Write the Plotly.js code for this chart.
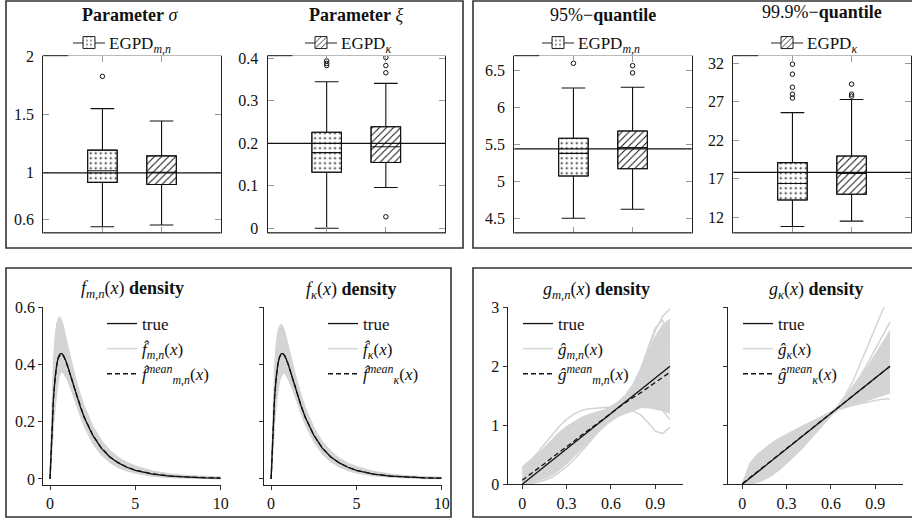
<!DOCTYPE html>
<html><head><meta charset="utf-8">
<script src="https://cdn.plot.ly/plotly-3.0.1.min.js"></script>
<style>body{margin:0;background:#fff}#chart{width:912px;height:519px}</style>
</head><body><div id="chart"></div>
<script>
// ---------------- DATA ----------------
const boxPos = [1, 2];
const boxNames = ['EGPD<sub><i>m,n</i></sub>', 'EGPD<sub><i>κ</i></sub>'];

// Parameter sigma
const sigQ1 = [0.918, 0.900], sigMed = [1.017, 1.005], sigQ3 = [1.194, 1.145];
const sigLo = [0.538, 0.553], sigHi = [1.550, 1.444];
const sigOut = [[1.826], []];
const sigTrue = 1.0;
const sigTicks = [0.6, 1, 1.5, 2], sigTickText = ['0.6', '1', '1.5', '2'];

// Parameter xi
const xiQ1 = [0.132, 0.155], xiMed = [0.178, 0.192], xiQ3 = [0.226, 0.239];
const xiLo = [0.0, 0.096], xiHi = [0.345, 0.341];
const xiOut = [[0.394, 0.388, 0.383], [0.402, 0.383, 0.366, 0.027]];
const xiTrue = 0.2;
const xiTicks = [0, 0.1, 0.2, 0.3, 0.4], xiTickText = ['0', '0.1', '0.2', '0.3', '0.4'];

// 95%-quantile
const q95Q1 = [5.073, 5.172], q95Med = [5.380, 5.457], q95Q3 = [5.584, 5.683];
const q95Lo = [4.500, 4.622], q95Hi = [6.266, 6.275];
const q95Out = [[6.60], [6.568, 6.47]];
const q95True = 5.44;
const q95Ticks = [4.5, 5, 5.5, 6, 6.5], q95TickText = ['4.5', '5', '5.5', '6', '6.5'];

// 99.9%-quantile
const q999Q1 = [14.25, 15.0], q999Med = [16.4, 17.7], q999Q3 = [19.1, 19.96];
const q999Lo = [10.8, 11.5], q999Hi = [25.6, 27.3];
const q999Out = [[31.9, 30.6, 28.9, 28.0, 27.5], [29.3, 28.0, 27.75]];
const q999True = 17.84;
const q999Ticks = [12, 17, 22, 27, 32], q999TickText = ['12', '17', '22', '27', '32'];

// densities f
const fX = [0,0.1,0.2,0.3,0.4,0.5,0.6,0.7,0.8,0.9,1,1.25,1.5,1.75,2,2.5,3,3.5,4,4.5,5,6,7,8,9,10];
const fTrue = [0,0.168,0.282,0.356,0.403,0.428,0.438,0.438,0.430,0.417,0.401,0.353,0.303,0.257,0.216,0.153,0.108,0.077,0.056,0.041,0.030,0.017,0.010,0.006,0.004,0.003];
const fMnMean = [0,0.165,0.278,0.352,0.399,0.424,0.434,0.435,0.428,0.416,0.400,0.353,0.304,0.258,0.217,0.154,0.109,0.078,0.057,0.042,0.031,0.018,0.011,0.007,0.004,0.003];
const fMnUpper = [0,0.26,0.41,0.50,0.545,0.563,0.565,0.55,0.53,0.50,0.475,0.41,0.35,0.30,0.255,0.185,0.135,0.10,0.075,0.058,0.045,0.028,0.018,0.012,0.009,0.007];
const fMnLower = [0,0.10,0.18,0.25,0.31,0.35,0.37,0.375,0.37,0.36,0.35,0.31,0.265,0.225,0.185,0.125,0.085,0.058,0.04,0.028,0.02,0.01,0.005,0.003,0.001,0.0005];
const fMnCurve = [0,0.20,0.33,0.41,0.455,0.475,0.48,0.475,0.465,0.45,0.43,0.375,0.32,0.27,0.225,0.16,0.112,0.08,0.058,0.043,0.032,0.018,0.011,0.007,0.005,0.003];
const fKMean = [0,0.170,0.283,0.356,0.402,0.427,0.437,0.437,0.430,0.417,0.401,0.353,0.303,0.257,0.216,0.153,0.108,0.077,0.056,0.041,0.030,0.017,0.010,0.006,0.004,0.003];
const fKUpper = [0,0.24,0.39,0.47,0.515,0.535,0.54,0.53,0.515,0.49,0.465,0.405,0.345,0.295,0.25,0.18,0.13,0.097,0.072,0.055,0.043,0.027,0.017,0.011,0.008,0.006];
const fKLower = [0,0.11,0.19,0.26,0.31,0.345,0.36,0.37,0.37,0.36,0.35,0.315,0.27,0.23,0.19,0.13,0.088,0.06,0.042,0.03,0.021,0.011,0.006,0.003,0.0015,0.0008];
const fKCurve = [0,0.18,0.30,0.38,0.43,0.455,0.46,0.458,0.45,0.437,0.42,0.37,0.318,0.268,0.224,0.158,0.11,0.079,0.057,0.042,0.031,0.018,0.011,0.007,0.005,0.003];

// densities g
const gX = [0,0.05,0.1,0.15,0.2,0.25,0.3,0.35,0.4,0.45,0.5,0.55,0.6,0.65,0.7,0.75,0.8,0.85,0.9,0.95,1];
const gTrue = [0,0.1,0.2,0.3,0.4,0.5,0.6,0.7,0.8,0.9,1.0,1.1,1.2,1.3,1.4,1.5,1.6,1.7,1.8,1.9,2.0];
const gMnMean = [0.07,0.16,0.26,0.35,0.45,0.54,0.64,0.73,0.83,0.92,1.02,1.11,1.2,1.3,1.39,1.47,1.55,1.64,1.72,1.81,1.9];
const gMnLower = [0,0.02,0.06,0.1,0.16,0.24,0.35,0.47,0.6,0.72,0.85,0.97,1.07,1.15,1.2,1.25,1.3,1.3,1.28,1.25,1.2];
const gMnUpper = [0.3,0.4,0.5,0.62,0.75,0.88,0.98,1.06,1.13,1.18,1.22,1.26,1.32,1.4,1.52,1.7,1.95,2.25,2.5,2.7,2.8];
const gMnC1 = [0.2,0.27,0.34,0.42,0.5,0.6,0.7,0.8,0.9,1.0,1.08,1.16,1.24,1.34,1.48,1.68,1.95,2.28,2.6,2.85,2.97];
const gMnC2 = [0,0.01,0.03,0.07,0.12,0.2,0.3,0.42,0.55,0.7,0.85,0.98,1.1,1.2,1.25,1.24,1.18,1.05,0.9,0.86,0.97];
const gMnC3 = [0.25,0.38,0.52,0.68,0.84,0.98,1.1,1.19,1.25,1.28,1.29,1.3,1.31,1.34,1.38,1.42,1.44,1.42,1.36,1.25,1.1];
const gMnC4 = [0.1,0.2,0.3,0.4,0.5,0.6,0.7,0.8,0.9,1.0,1.1,1.18,1.25,1.32,1.42,1.6,1.9,2.3,2.65,2.78,2.5];
const gKMean = [0.01,0.11,0.2,0.3,0.41,0.5,0.6,0.7,0.8,0.9,1.0,1.1,1.2,1.3,1.4,1.5,1.6,1.7,1.8,1.9,2.0];
const gKLower = [0,0,0.03,0.08,0.15,0.25,0.36,0.48,0.6,0.75,0.9,1.05,1.17,1.26,1.3,1.34,1.38,1.42,1.46,1.5,1.55];
const gKUpper = [0,0.35,0.5,0.6,0.7,0.78,0.85,0.92,0.98,1.04,1.1,1.16,1.23,1.33,1.5,1.65,1.82,2.0,2.2,2.4,2.6];
const gKC1 = [0,0.02,0.06,0.12,0.2,0.3,0.42,0.55,0.68,0.82,0.96,1.08,1.2,1.34,1.52,1.75,2.05,2.35,2.65,2.95,3.25];
const gKC2 = [0,0.3,0.45,0.56,0.66,0.75,0.83,0.9,0.97,1.03,1.09,1.15,1.21,1.27,1.31,1.34,1.37,1.4,1.42,1.44,1.45];
const gKC3 = [0,0.01,0.04,0.09,0.16,0.25,0.36,0.48,0.6,0.74,0.88,1.02,1.16,1.3,1.46,1.64,1.84,2.06,2.3,2.52,2.75];

// ---------------- LAYOUT HELPERS ----------------
const W = 912, H = 519;
const FONT = 'Liberation Serif, DejaVu Serif, Times New Roman, serif';
const FS = 16, LFS = 17;
const px = v => v / W;
const py = v => 1 - v / H;
const traces = [];
const layout = {
  width: W, height: H, margin: {l: 0, r: 0, t: 0, b: 0},
  paper_bgcolor: 'white', plot_bgcolor: 'rgba(0,0,0,0)',
  showlegend: true, hovermode: false, barmode: 'overlay',
  font: {family: FONT, size: FS, color: '#111'},
  shapes: [], annotations: []
};

const patterns = [
  {shape: '.', fgcolor: '#111', bgcolor: 'white', size: 5, solidity: 0.12},
  {shape: '/', fgcolor: '#111', bgcolor: 'white', size: 5, solidity: 0.2}
];

function topPlot(k, xd, yr, q1, med, q3, lo, hi, outs, trueVal, tv, tt, legendIdx, legX) {
  const xa = k === 1 ? 'x' : 'x' + k, ya = k === 1 ? 'y' : 'y' + k;
  const lg = k === 1 ? 'legend' : 'legend' + k;
  for (let i = 0; i < 2; i++) {
    traces.push({type: 'bar', x: [boxPos[i]], base: [q1[i]], y: [q3[i] - q1[i]], width: [0.5],
      xaxis: xa, yaxis: ya, name: boxNames[i], legend: lg, showlegend: i === legendIdx,
      marker: {color: 'white', line: {color: '#222', width: 1}, pattern: patterns[i]}});
  }
  traces.push({type: 'box', x: boxPos, q1: q1, median: med, q3: q3, lowerfence: lo, upperfence: hi,
    width: 0.5, whiskerwidth: 0.8, fillcolor: 'rgba(0,0,0,0)', line: {color: '#111', width: 1.1},
    boxpoints: false, xaxis: xa, yaxis: ya, showlegend: false});
  const ox = [], oy = [];
  outs.forEach((arr, i) => arr.forEach(v => { ox.push(boxPos[i]); oy.push(v); }));
  traces.push({type: 'scatter', mode: 'markers', x: ox, y: oy, xaxis: xa, yaxis: ya, showlegend: false,
    marker: {symbol: 'circle-open', size: 4.5, color: '#111', line: {width: 1, color: '#111'}}});
  const axX = {domain: [px(xd[0]), px(xd[1])], range: [0, 3], tickvals: boxPos, showticklabels: false,
    ticks: 'inside', ticklen: 6, tickcolor: '#999', showline: true, linecolor: '#bbb', linewidth: 1,
    mirror: 'ticks', showgrid: false, zeroline: false, anchor: ya, fixedrange: true};
  const axY = {domain: [py(232.7), py(55.7)], range: yr, tickvals: tv, ticktext: tt,
    ticks: 'inside', ticklen: 6, tickcolor: '#999', showline: true, linecolor: '#222', linewidth: 1,
    mirror: 'ticks', showgrid: false, zeroline: false, anchor: xa, fixedrange: true,
    tickfont: {family: FONT, size: FS, color: '#111'}, ticklabelstandoff: 5};
  layout[k === 1 ? 'xaxis' : 'xaxis' + k] = axX;
  layout[k === 1 ? 'yaxis' : 'yaxis' + k] = axY;
  layout.shapes.push({type: 'line', xref: xa + ' domain', yref: ya + ' domain', x0: 0, x1: 1, y0: 0, y1: 0, line: {color: '#222', width: 1}});
  layout.shapes.push({type: 'line', xref: xa + ' domain', yref: ya + ' domain', x0: 0, x1: 0.14, y0: 1, y1: 1, line: {color: '#222', width: 1}});
  layout.shapes.push({type: 'line', xref: xa + ' domain', yref: ya, x0: 0, x1: 1, y0: trueVal, y1: trueVal, line: {color: '#111', width: 1.3}});
  // small line across the legend symbol (legend decoration)
  layout.shapes.push({type: 'line', xref: 'paper', yref: 'paper', x0: px(legX + 4), x1: px(legX + 36), y0: py(43), y1: py(43), line: {color: '#222', width: 1}, layer: 'below'});
  layout[lg] = {x: px(legX), y: py(43), xanchor: 'left', yanchor: 'middle', bgcolor: 'rgba(0,0,0,0)',
    font: {family: FONT, size: LFS, color: '#111'}, borderwidth: 0};
}

topPlot(1, [43.3, 220.7], [0.487, 2.003], sigQ1, sigMed, sigQ3, sigLo, sigHi, sigOut, sigTrue, sigTicks, sigTickText, 0, 69);
topPlot(2, [267.5, 445], [-0.0104, 0.4062], xiQ1, xiMed, xiQ3, xiLo, xiHi, xiOut, xiTrue, xiTicks, xiTickText, 1, 301);
topPlot(3, [514.3, 691.7], [4.305, 6.703], q95Q1, q95Med, q95Q3, q95Lo, q95Hi, q95Out, q95True, q95Ticks, q95TickText, 0, 538);
topPlot(4, [733.3, 910.7], [10.0, 33.0], q999Q1, q999Med, q999Q3, q999Lo, q999Hi, q999Out, q999True, q999Ticks, q999TickText, 1, 767);

const GRAY = '#d4d4d4';
function bottomPlot(k, xd, xr, yr, yb, tv, ytv, ylabels, X, lower, upper, extras, truth, mean, names, legX) {
  const xa = 'x' + k, ya = 'y' + k, lg = 'legend' + k;
  traces.push({type: 'scatter', mode: 'lines', x: X, y: lower, xaxis: xa, yaxis: ya, showlegend: false,
    line: {color: GRAY, width: 1.2}});
  traces.push({type: 'scatter', mode: 'lines', x: X, y: upper, xaxis: xa, yaxis: ya, showlegend: false,
    fill: 'tonexty', fillcolor: GRAY, line: {color: GRAY, width: 1.2}});
  extras.forEach((e, i) => traces.push({type: 'scatter', mode: 'lines', x: X, y: e, xaxis: xa, yaxis: ya,
    name: names[1], legend: lg, legendgroup: 'b', showlegend: i === 0, legendrank: 2, line: {color: GRAY, width: 1.5}}));
  traces.push({type: 'scatter', mode: 'lines', x: X, y: truth, xaxis: xa, yaxis: ya, name: names[0],
    legend: lg, legendgroup: 'a', legendrank: 1, line: {color: '#111', width: 1.3}});
  traces.push({type: 'scatter', mode: 'lines', x: X, y: mean, xaxis: xa, yaxis: ya, name: names[2],
    legend: lg, legendgroup: 'c', legendrank: 3, line: {color: '#111', width: 1.3, dash: '5px,3px'}});
  layout['xaxis' + k] = {domain: [px(xd[0]), px(xd[1])], range: xr, tickvals: tv, ticktext: tv.map(String),
    ticks: 'outside', ticklen: 4, tickcolor: '#333', showline: true, linecolor: '#222', linewidth: 1,
    showgrid: false, zeroline: false, anchor: ya, fixedrange: true,
    tickfont: {family: FONT, size: FS, color: '#111'}};
  layout['yaxis' + k] = {domain: [py(yb), py(307.3)], range: yr, tickvals: ytv, ticktext: ytv.map(String),
    showticklabels: ylabels, ticks: 'outside', ticklen: 4, tickcolor: '#333', showline: true, linecolor: '#222',
    linewidth: 1, showgrid: false, zeroline: false, anchor: xa, fixedrange: true,
    tickfont: {family: FONT, size: FS, color: '#111'}};
  layout[lg] = {x: px(legX), y: py(306), xanchor: 'left', yanchor: 'top', bgcolor: 'rgba(0,0,0,0)',
    font: {family: FONT, size: LFS, color: '#111'}, borderwidth: 0, traceorder: 'grouped', tracegroupgap: 0};
}

const fMnNames = ['true', '<i>f\u0302</i><sub><i>m,n</i></sub>(<i>x</i>)', '<i>f\u0302</i><sup><i>mean</i></sup><sub><i>m,n</i></sub>(<i>x</i>)'];
const fKNames = ['true', '<i>f\u0302</i><sub><i>κ</i></sub>(<i>x</i>)', '<i>f\u0302</i><sup><i>mean</i></sup><sub><i>κ</i></sub>(<i>x</i>)'];
const gMnNames = ['true', '<i>ĝ</i><sub><i>m,n</i></sub>(<i>x</i>)', '<i>ĝ</i><sup><i>mean</i></sup><sub><i>m,n</i></sub>(<i>x</i>)'];
const gKNames = ['true', '<i>ĝ</i><sub><i>κ</i></sub>(<i>x</i>)', '<i>ĝ</i><sup><i>mean</i></sup><sub><i>κ</i></sub>(<i>x</i>)'];

const fTicks = [0, 5, 10], fYTicks = [0, 0.2, 0.4, 0.6];
const gTicks = [0, 0.3, 0.6, 0.9], gYTicks = [0, 1, 2, 3];

bottomPlot(5, [43.2, 220.7], [-0.4, 10], [-0.02, 0.6], 484.7, fTicks, fYTicks, true, fX, fMnLower, fMnUpper, [fMnCurve], fTrue, fMnMean, fMnNames, 102);
bottomPlot(6, [264.3, 441.7], [-0.4, 10], [-0.02, 0.6], 484.7, fTicks, fYTicks, false, fX, fKLower, fKUpper, [fKCurve], fTrue, fKMean, fKNames, 323);
bottomPlot(7, [507.5, 683.3], [-0.1, 1.09], [0, 3], 484.3, gTicks, gYTicks, true, gX, gMnLower, gMnUpper, [gMnC1, gMnC2, gMnC3, gMnC4], gTrue, gMnMean, gMnNames, 518);
bottomPlot(8, [727.5, 903.3], [-0.1, 1.09], [0, 3], 484.3, gTicks, gYTicks, false, gX, gKLower, gKUpper, [gKC1, gKC2, gKC3], gTrue, gKMean, gKNames, 738);

// titles
const titles = [
  ['<b>Parameter</b> <i>σ</i>', 130, 15], ['<b>Parameter</b> <i>ξ</i>', 356, 15],
  ['95%−<b>quantile</b>', 603, 15], ['99.9%−<b>quantile</b>', 822, 12],
  ['<i>f</i><sub><i>m,n</i></sub>(<i>x</i>) <b>density</b>', 132, 289], ['<i>f</i><sub><i>κ</i></sub>(<i>x</i>) <b>density</b>', 351, 290],
  ['<i>g</i><sub><i>m,n</i></sub>(<i>x</i>) <b>density</b>', 596, 290], ['<i>g</i><sub><i>κ</i></sub>(<i>x</i>) <b>density</b>', 816, 290]
];
titles.forEach(t => layout.annotations.push({text: t[0], xref: 'paper', yref: 'paper', x: px(t[1]), y: py(t[2]),
  xanchor: 'center', yanchor: 'middle', showarrow: false, font: {family: FONT, size: 18, color: '#111'}}));

// panel frames
[[6, 463, 1, 248], [473, 916, 1, 248], [6, 451, 268, 517], [473, 916, 268, 517]].forEach(f =>
  layout.shapes.push({type: 'rect', xref: 'paper', yref: 'paper', x0: px(f[0]), x1: px(f[1]), y0: py(f[3]), y1: py(f[2]),
    line: {color: '#333', width: 1.6}, fillcolor: 'rgba(0,0,0,0)', layer: 'below'}));

Plotly.newPlot('chart', traces, layout, {staticPlot: true, displayModeBar: false});
</script></body></html>
